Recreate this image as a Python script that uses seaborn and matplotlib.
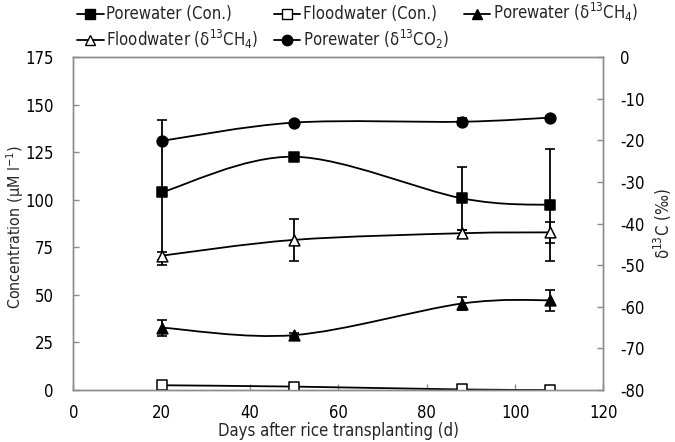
import numpy as np
import matplotlib
matplotlib.use('Agg')
import matplotlib.pyplot as plt
from matplotlib.path import Path
from matplotlib.patches import PathPatch
from matplotlib.lines import Line2D
import seaborn as sns

# data
days = [20, 50, 88, 108]
pore_con = [104, 122.7, 100.8, 97.3]
pore_con_err = [38, 2, 16.6, 29.5]
flood_con = [2.5, 1.8, 0.3, 0.0]
flood_con_err = [0, 0, 0, 0]
pore_ch4 = [-65.0, -66.8, -59.2, -58.4]
pore_ch4_err = [1.9, 0.4, 1.5, 2.5]
flood_ch4 = [-47.7, -43.9, -42.3, -42.1]
flood_ch4_err = [1.0, 5.1, 0.8, 2.5]
pore_co2 = [-20.1, -15.7, -15.5, -14.5]
pore_co2_err = [0, 0.5, 0.8, 0.3]

sns.set_style('white')
plt.rcParams['font.family'] = ['DejaVu Sans']
plt.rcParams['font.stretch'] = 'condensed'
plt.rcParams['mathtext.default'] = 'regular'
plt.rcParams['axes.unicode_minus'] = False

fig, ax = plt.subplots(figsize=(6.75, 4.42), dpi=100)
fig.subplots_adjust(left=0.1086, right=0.894, top=0.8704, bottom=0.1176)
ax2 = ax.twinx()


def smooth(axis, x, y):
    # excel style smoothed line: bezier through the points
    x = np.asarray(x, float)
    y = np.asarray(y, float)
    pts = np.column_stack([x, y])
    verts = [pts[0]]
    codes = [Path.MOVETO]
    n = len(pts)
    for i in range(n - 1):
        p0 = pts[i - 1] if i > 0 else pts[i]
        p1 = pts[i]
        p2 = pts[i + 1]
        p3 = pts[i + 2] if i + 2 < n else pts[i + 1]
        c1 = p1 + (p2 - p0) / 6
        c2 = p2 - (p3 - p1) / 6
        verts += [c1, c2, p2]
        codes += [Path.CURVE4] * 3
    axis.add_patch(PathPatch(Path(verts, codes), fill=False, edgecolor='black', lw=1.3, zorder=2))


series = [
    (ax, pore_con, pore_con_err, 's', 'black', 'Porewater (Con.)'),
    (ax, flood_con, flood_con_err, 's', 'white', 'Floodwater (Con.)'),
    (ax2, pore_ch4, pore_ch4_err, '^', 'black', 'Porewater (δ$^{13}$CH$_4$)'),
    (ax2, flood_ch4, flood_ch4_err, '^', 'white', 'Floodwater (δ$^{13}$CH$_4$)'),
    (ax2, pore_co2, pore_co2_err, 'o', 'black', 'Porewater (δ$^{13}$CO$_2$)'),
]

handles = []
for axis, vals, err, mk, fc, lab in series:
    smooth(axis, days, vals)
    axis.errorbar(days, vals, yerr=err, fmt='none', ecolor='black', elinewidth=1.3,
                  capsize=3.5, capthick=1.2, zorder=3)
    sns.scatterplot(x=days, y=vals, ax=axis, marker=mk, s=60, color=fc,
                    edgecolor='black', linewidth=1.1, zorder=4, legend=False)
    handles.append(Line2D([0], [0], color='black', lw=1.3, marker=mk, markersize=7.5,
                          markerfacecolor=fc, markeredgecolor='black', label=lab))

ax.set_xlim(0, 120)
ax.set_xticks(range(0, 121, 20))
ax.set_ylim(0, 175)
ax.set_yticks(range(0, 176, 25))
ax2.set_ylim(-80, 0)
ax2.set_yticks(range(-80, 1, 10))

for a in (ax, ax2):
    for s in a.spines.values():
        s.set_color('#8c8c8c')
        s.set_linewidth(1.0)
    a.tick_params(direction='in', length=4, width=1, color='#8c8c8c', labelsize=12,
                  labelcolor='black')
ax.tick_params(axis='x', bottom=True, pad=10)
ax.tick_params(axis='y', left=True, pad=14)
ax2.tick_params(axis='y', right=True, pad=12)

ax.set_xlabel('Days after rice transplanting (d)', fontsize=12, labelpad=0)
ax.set_ylabel('Concentration (μM l$^{-1}$)', fontsize=11.5)
ax.yaxis.set_label_coords(-0.09, 0.49)
ax2.set_ylabel('δ$^{13}$C (‰)', fontsize=12, labelpad=5)

# legend fills by column, so reorder to get the row layout of the original
order = [0, 3, 1, 4, 2]
fig.legend(handles=[handles[i] for i in order], loc='upper left',
           bbox_to_anchor=(0.104, 1.012), ncol=3, frameon=False, fontsize=12,
           handlelength=1.6, handletextpad=0.15, columnspacing=0.9,
           labelspacing=0.25, borderaxespad=0)

fig.savefig('out.png', dpi=100)
